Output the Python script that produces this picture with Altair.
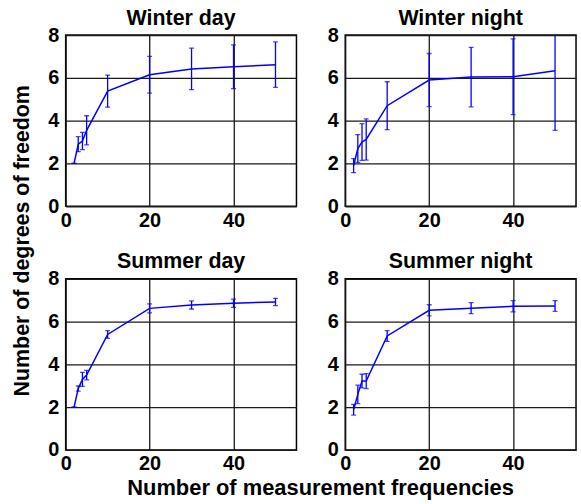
import altair as alt
import pandas as pd

# Number of measurement frequencies used
freqs = [2, 3, 4, 5, 10, 20, 30, 40, 50]

# Mean number of degrees of freedom and half-width of the error bar, per season / time of day
winter_day_mean = [2.0, 2.9, 3.05, 3.55, 5.38, 6.15, 6.42, 6.52, 6.62]
winter_day_err = [0.0, 0.35, 0.40, 0.68, 0.75, 0.86, 0.97, 1.02, 1.06]

winter_night_mean = [1.9, 2.7, 3.0, 3.12, 4.7, 5.9, 6.04, 6.05, 6.33]
winter_night_err = [0.33, 0.65, 0.86, 0.96, 1.12, 1.24, 1.39, 1.77, 2.78]

summer_day_mean = [2.0, 2.87, 3.3, 3.5, 5.4, 6.62, 6.78, 6.86, 6.92]
summer_day_err = [0.0, 0.12, 0.33, 0.22, 0.18, 0.21, 0.19, 0.19, 0.17]

summer_night_mean = [1.88, 2.6, 3.22, 3.22, 5.33, 6.53, 6.63, 6.72, 6.73]
summer_night_err = [0.25, 0.43, 0.32, 0.35, 0.25, 0.26, 0.26, 0.26, 0.25]

panel_titles = ["Winter day", "Winter night", "Summer day", "Summer night"]

x_ticks = [0, 20, 40]
y_ticks = [0, 2, 4, 6, 8]

BLUE = "#0000ff"
FONT = "Liberation Sans"
PW, PH = 232, 172


def panel(title, mean, err):
    df = pd.DataFrame({
        "freq": freqs,
        "dof": mean,
        "lo": [m - e for m, e in zip(mean, err)],
        "hi": [m + e for m, e in zip(mean, err)],
    })
    x = alt.X("freq:Q", scale=alt.Scale(domain=[0, 55], nice=False),
              axis=alt.Axis(values=x_ticks, title=None))
    ysc = alt.Scale(domain=[0, 8], nice=False)
    yax = alt.Axis(values=y_ticks, title=None)
    base = alt.Chart(df)
    line = base.mark_line(color=BLUE, strokeWidth=1.5).encode(
        x=x, y=alt.Y("dof:Q", scale=ysc, axis=yax))
    bars = base.mark_rule(color=BLUE, strokeWidth=1.3, clip=True).encode(
        x=x, y=alt.Y("lo:Q", scale=ysc, axis=yax), y2="hi:Q")
    cap_lo = base.mark_tick(color=BLUE, size=5, thickness=1.3, orient="horizontal",
                            clip=True).encode(x=x, y=alt.Y("lo:Q", scale=ysc, axis=yax))
    cap_hi = base.mark_tick(color=BLUE, size=5, thickness=1.3, orient="horizontal",
                            clip=True).encode(x=x, y=alt.Y("hi:Q", scale=ysc, axis=yax))
    return alt.layer(bars, cap_lo, cap_hi, line).properties(
        width=PW, height=PH,
        title=alt.TitleParams(title, fontSize=21.5, fontWeight="bold", font=FONT,
                              color="black", offset=-4))


p1 = panel(panel_titles[0], winter_day_mean, winter_day_err)
p2 = panel(panel_titles[1], winter_night_mean, winter_night_err)
p3 = panel(panel_titles[2], summer_day_mean, summer_day_err)
p4 = panel(panel_titles[3], summer_night_mean, summer_night_err)

grid = alt.vconcat(
    alt.hconcat(p1, p2, spacing=29),
    alt.hconcat(p3, p4, spacing=29),
    spacing=19,
).properties(
    title=alt.TitleParams("Number of degrees of freedom", orient="left", anchor="middle",
                          fontSize=21.5, fontWeight="bold", font=FONT, color="black",
                          offset=13)
)

chart = alt.vconcat(grid).properties(
    title=alt.TitleParams("Number of measurement frequencies", orient="bottom",
                          anchor="middle", fontSize=22, fontWeight="bold", font=FONT,
                          color="black", offset=4, dx=26),
    padding={"left": 12, "top": 5, "right": 4, "bottom": 2},
).configure(
    background="white",
).configure_view(
    stroke="black", strokeWidth=1.5,
).configure_axis(
    labelFont=FONT, labelFontSize=20, labelFontWeight="bold", labelColor="black",
    ticks=False, domain=False,
    grid=True, gridColor="#1a1a1a", gridWidth=1.3, gridOpacity=1,
    labelFlush=False, labelOverlap=False,
).configure_axisY(
    labelPadding=7,
).configure_axisX(
    labelPadding=4,
)

chart.save("out.html", embed_options={"renderer": "svg", "actions": False})
